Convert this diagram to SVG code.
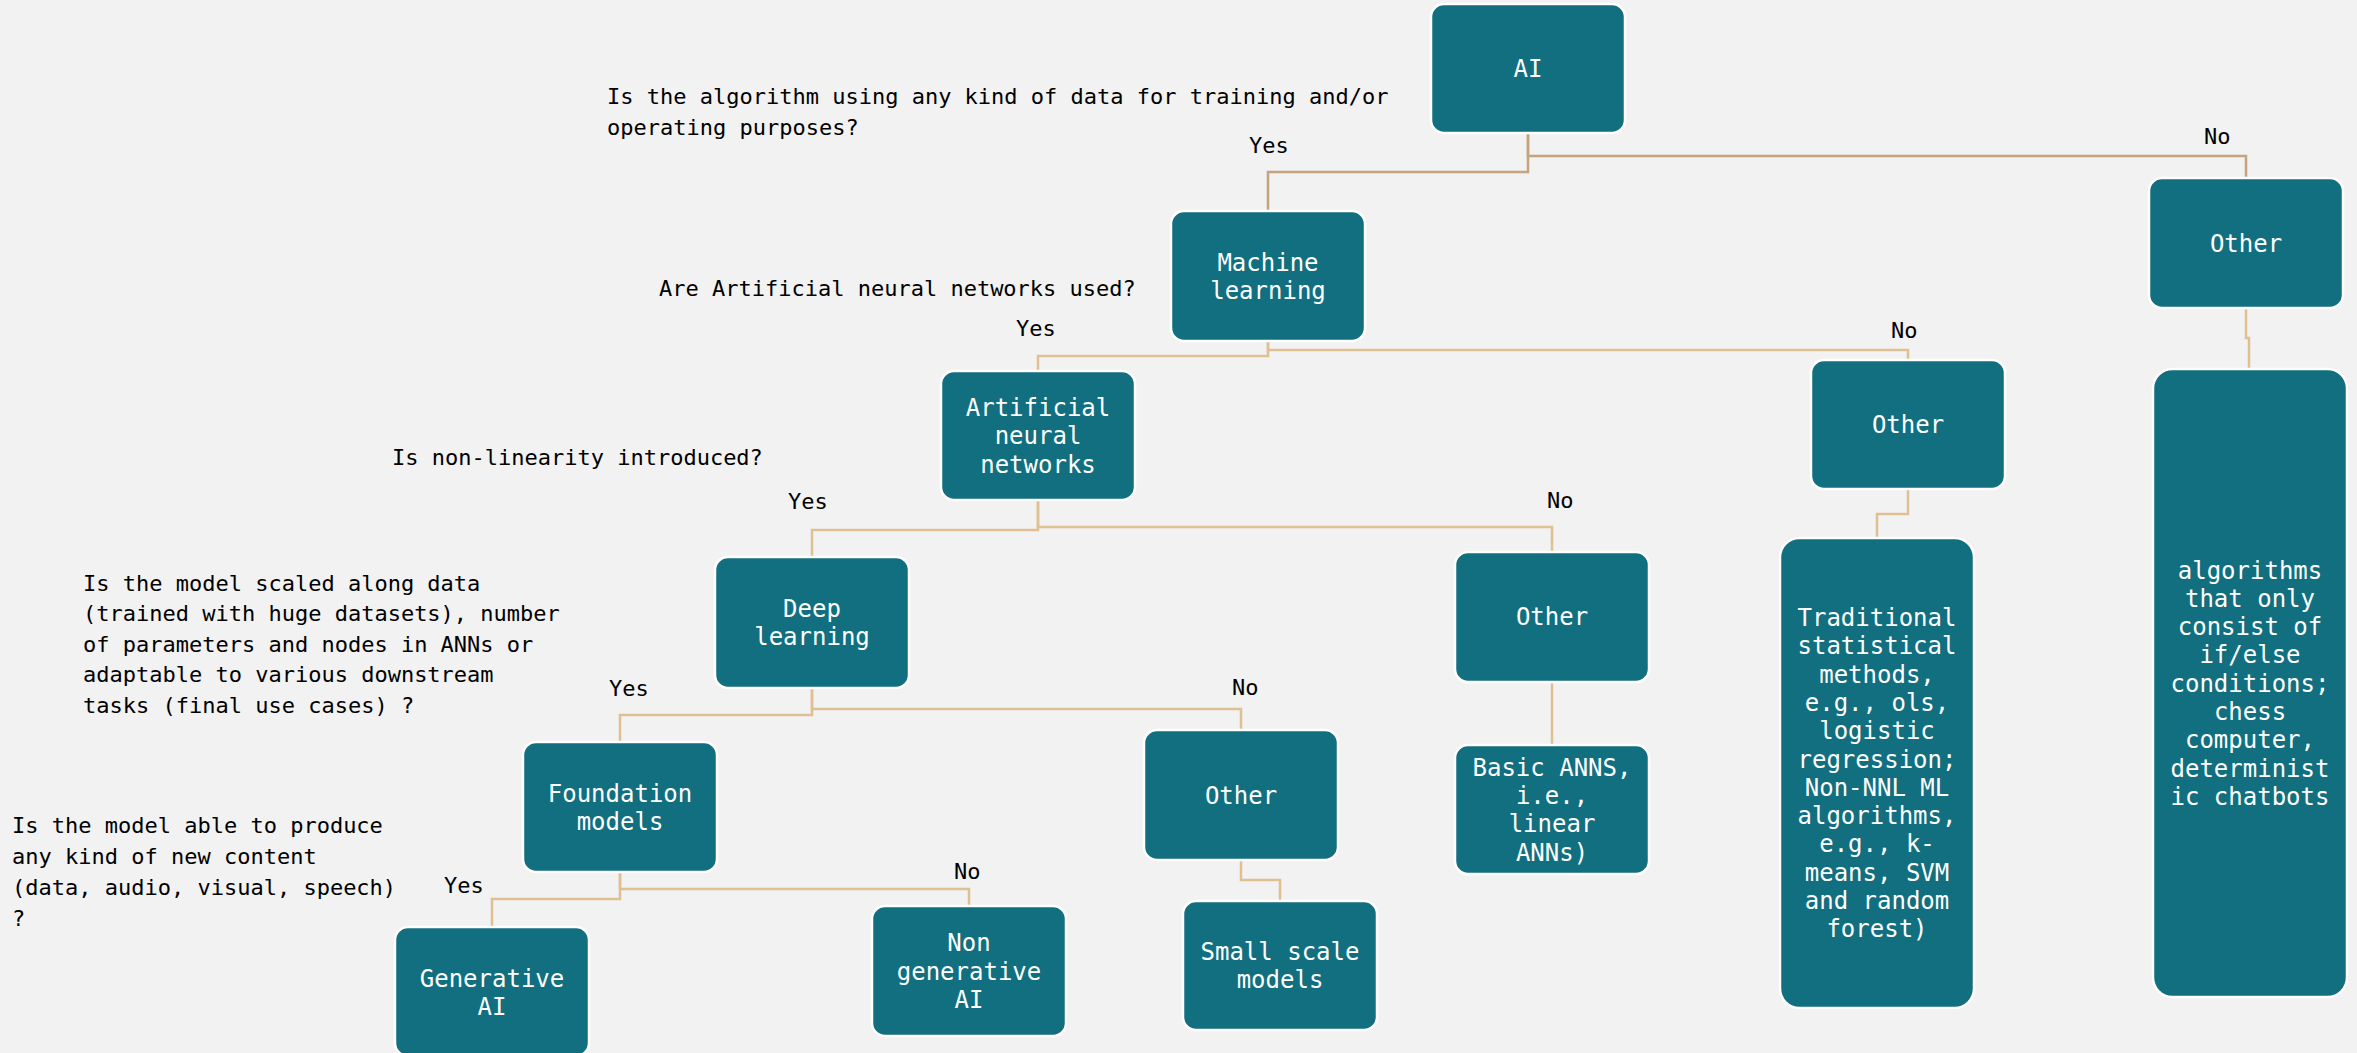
<svg xmlns="http://www.w3.org/2000/svg" width="2357" height="1053" viewBox="0 0 2357 1053">
<style>
.bg{fill:#F2F2F2}
.box{fill:#116F7F;stroke:#FFFFFF;stroke-width:2.5}
.bt{font-family:"DejaVu Sans Mono","Liberation Mono",monospace;font-size:24px;fill:#FFFFFF;text-anchor:middle}
.q{font-family:"DejaVu Sans Mono","Liberation Mono",monospace;font-size:22px;fill:#000000}
.c1{fill:none;stroke:#C4A47E;stroke-width:2.5}
.c2{fill:none;stroke:#DEC092;stroke-width:2.5}
</style>
<rect class="bg" x="0" y="0" width="2357" height="1053"/>

<g id="connectors">
<path class="c1" d="M1528,133 V172 H1268 V211"/>
<path class="c1" d="M1528,133 V156 H2246 V178"/>
<path class="c2" d="M2246,308 V338 H2249 V369"/>
<path class="c2" d="M1268,341 V356 H1038 V371"/>
<path class="c2" d="M1268,341 V350 H1908 V360"/>
<path class="c2" d="M1908,489 V514 H1877 V538"/>
<path class="c2" d="M1038,500 V530 H812 V557"/>
<path class="c2" d="M1038,500 V527 H1552 V552"/>
<path class="c2" d="M812,688 V715 H620 V742"/>
<path class="c2" d="M812,688 V709 H1241 V730"/>
<path class="c2" d="M1241,860 V880 H1280 V901"/>
<path class="c2" d="M620,872 V899 H492 V927"/>
<path class="c2" d="M620,872 V889 H969 V906"/>
<path class="c2" d="M1552,682 V745"/>
</g>

<g id="labels">
<text class="q" x="607" y="104">Is the algorithm using any kind of data for training and/or</text>
<text class="q" x="607" y="135">operating purposes?</text>
<text class="q" x="659" y="296">Are Artificial neural networks used?</text>
<text class="q" x="392" y="465">Is non-linearity introduced?</text>
<text class="q" x="83" y="590.5">Is the model scaled along data</text>
<text class="q" x="83" y="621">(trained with huge datasets), number</text>
<text class="q" x="83" y="651.5">of parameters and nodes in ANNs or</text>
<text class="q" x="83" y="682">adaptable to various downstream</text>
<text class="q" x="83" y="712.5">tasks (final use cases) ?</text>
<text class="q" x="12" y="833">Is the model able to produce</text>
<text class="q" x="12" y="864">any kind of new content</text>
<text class="q" x="12" y="895">(data, audio, visual, speech)</text>
<text class="q" x="12" y="925.5">?</text>
<text class="q" x="1249" y="153">Yes</text>
<text class="q" x="2204" y="144">No</text>
<text class="q" x="1016" y="336">Yes</text>
<text class="q" x="1891" y="338">No</text>
<text class="q" x="788" y="509">Yes</text>
<text class="q" x="1547" y="508">No</text>
<text class="q" x="609" y="696">Yes</text>
<text class="q" x="1232" y="695">No</text>
<text class="q" x="444" y="893">Yes</text>
<text class="q" x="954" y="879">No</text>
</g>

<g id="n-ai">
<rect class="box" x="1431" y="4" width="194" height="129" rx="13"/>
<text class="bt" x="1528" y="77">AI</text>
</g>
<g id="n-ml">
<rect class="box" x="1171" y="211" width="194" height="130" rx="13"/>
<text class="bt" x="1268" y="270.5">Machine<tspan x="1268" dy="28.3">learning</tspan></text>
</g>
<g id="n-other-top">
<rect class="box" x="2149" y="178" width="194" height="130" rx="13"/>
<text class="bt" x="2246" y="251.7">Other</text>
</g>
<g id="n-algorithms">
<rect class="box" x="2153" y="369" width="194" height="628" rx="19.4"/>
<text class="bt" x="2250" y="578.5">algorithms<tspan x="2250" dy="28.3">that only</tspan><tspan x="2250" dy="28.3">consist of</tspan><tspan x="2250" dy="28.3">if/else</tspan><tspan x="2250" dy="28.3">conditions;</tspan><tspan x="2250" dy="28.3">chess</tspan><tspan x="2250" dy="28.3">computer,</tspan><tspan x="2250" dy="28.3">determinist</tspan><tspan x="2250" dy="28.3">ic chatbots</tspan></text>
</g>
<g id="n-other-ml">
<rect class="box" x="1811" y="360" width="194" height="129" rx="13"/>
<text class="bt" x="1908" y="433">Other</text>
</g>
<g id="n-traditional">
<rect class="box" x="1780" y="538" width="194" height="470" rx="19.4"/>
<text class="bt" x="1877" y="626">Traditional<tspan x="1877" dy="28.3">statistical</tspan><tspan x="1877" dy="28.3">methods,</tspan><tspan x="1877" dy="28.3">e.g., ols,</tspan><tspan x="1877" dy="28.3">logistic</tspan><tspan x="1877" dy="28.3">regression;</tspan><tspan x="1877" dy="28.3">Non-NNL ML</tspan><tspan x="1877" dy="28.3">algorithms,</tspan><tspan x="1877" dy="28.3">e.g., k-</tspan><tspan x="1877" dy="28.3">means, SVM</tspan><tspan x="1877" dy="28.3">and random</tspan><tspan x="1877" dy="28.3">forest)</tspan></text>
</g>
<g id="n-ann">
<rect class="box" x="941" y="371" width="194" height="129" rx="13"/>
<text class="bt" x="1038" y="416">Artificial<tspan x="1038" dy="28.3">neural</tspan><tspan x="1038" dy="28.3">networks</tspan></text>
</g>
<g id="n-other-ann">
<rect class="box" x="1455" y="552" width="194" height="130" rx="13"/>
<text class="bt" x="1552" y="624.5">Other</text>
</g>
<g id="n-basic">
<rect class="box" x="1455" y="745" width="194" height="129" rx="13"/>
<text class="bt" x="1552" y="775.8">Basic ANNS,<tspan x="1552" dy="28.3">i.e.,</tspan><tspan x="1552" dy="28.3">linear</tspan><tspan x="1552" dy="28.3">ANNs)</tspan></text>
</g>
<g id="n-dl">
<rect class="box" x="715" y="557" width="194" height="131" rx="13"/>
<text class="bt" x="812" y="617">Deep<tspan x="812" dy="28.3">learning</tspan></text>
</g>
<g id="n-other-dl">
<rect class="box" x="1144" y="730" width="194" height="130" rx="13"/>
<text class="bt" x="1241" y="803.7">Other</text>
</g>
<g id="n-small">
<rect class="box" x="1183" y="901" width="194" height="129" rx="13"/>
<text class="bt" x="1280" y="960">Small scale<tspan x="1280" dy="28.3">models</tspan></text>
</g>
<g id="n-fm">
<rect class="box" x="523" y="742" width="194" height="130" rx="13"/>
<text class="bt" x="620" y="801.5">Foundation<tspan x="620" dy="28.3">models</tspan></text>
</g>
<g id="n-genai">
<rect class="box" x="395" y="927" width="194" height="129" rx="13"/>
<text class="bt" x="492" y="986.5">Generative<tspan x="492" dy="28.3">AI</tspan></text>
</g>
<g id="n-nongen">
<rect class="box" x="872" y="906" width="194" height="130" rx="13"/>
<text class="bt" x="969" y="951.4">Non<tspan x="969" dy="28.3">generative</tspan><tspan x="969" dy="28.3">AI</tspan></text>
</g>
</svg>
